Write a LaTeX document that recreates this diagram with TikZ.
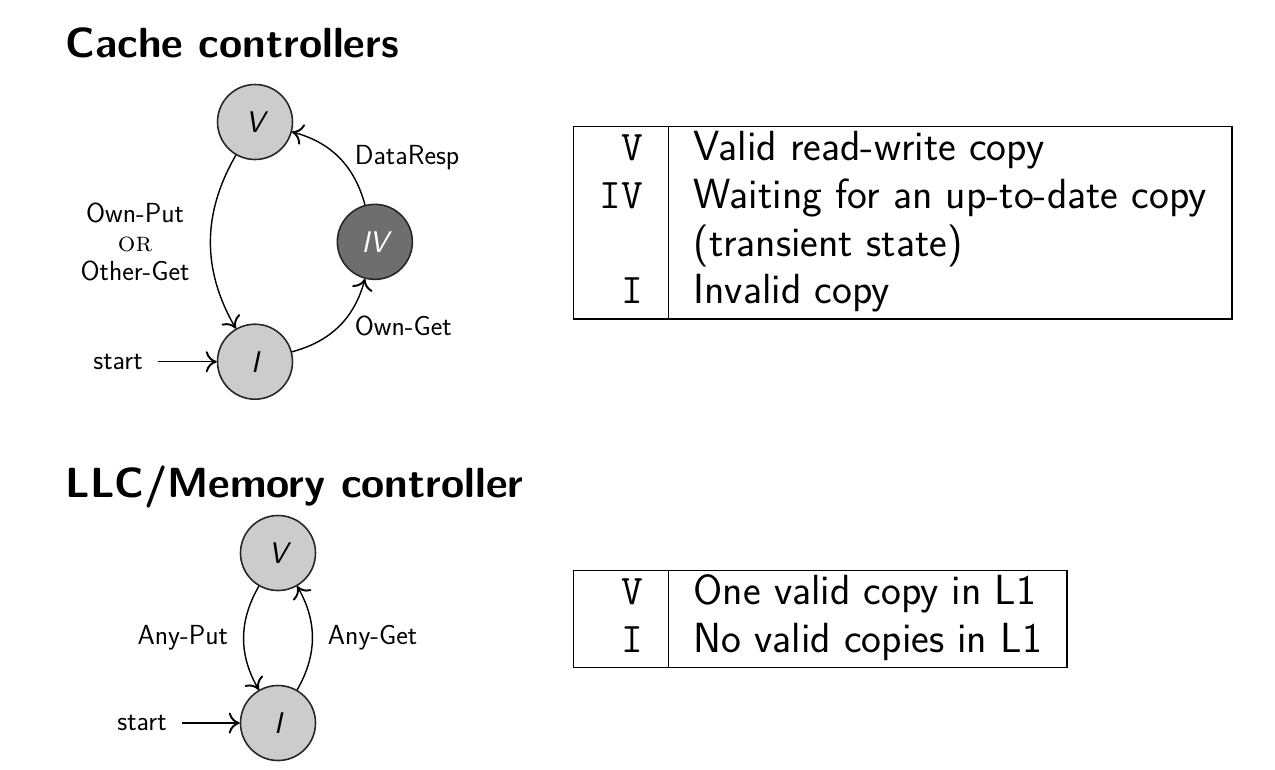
\documentclass[tikz,border=0pt]{standalone}
\usepackage{fontspec}
\usepackage{array}
\usetikzlibrary{arrows.meta}
\newcommand{\lblfont}{\fontsize{15.7}{16.5}\selectfont\sffamily}
\newcommand{\tabfont}{\fontsize{24}{27.2}\selectfont\sffamily}
\newcommand{\headfont}{\fontsize{24}{29}\selectfont\sffamily\bfseries}
\newcolumntype{S}{>{\raggedleft\arraybackslash}p{1.05em}}
\setlength{\tabcolsep}{14pt}
\setlength{\arrayrulewidth}{0.8pt}

\begin{document}
\begin{tikzpicture}[->,>={To[length=2.2mm,width=4.2mm,line width=1.1pt]},line width=0.8pt,node distance=3.39cm,auto=right,
  st/.style={draw=black!85, line width=0.9pt, circle, fill=black!20, minimum size=1.5cm,
    font=\fontsize{17}{20}\selectfont\sffamily\itshape},
  sttr/.style={st, fill=black!57, text=white},
  lbl/.style={font=\lblfont, inner sep=8.5pt, align=center},
  head/.style={anchor=base west, inner sep=0pt, font=\headfont},
  tab/.style={anchor=north west, inner sep=0pt, font=\tabfont}]
\useasboundingbox (0,0) rectangle (25.5,-15.38);

% cache controllers
\node (h1)[head] at (1.3,-1.14) {Cache controllers};
\node  (1)[st] at (5.1,-2.44) {V};
\node  (2)[sttr] [below right of = 1] {IV};
\node  (3)[st]   [below left  of = 2] {I};
\node  (s1)[lbl] [left of = 3, node distance=2.74cm] {start};
\path (s1) edge (3)
      (1) edge[bend right] node[lbl, inner sep=11.5pt]{Own-Put\\\textrm{\textsc{or}}\\Other-Get} (3)
      (3) edge[bend right] node[lbl, anchor=west]{Own-Get} (2)
      (2) edge[bend right] node[lbl, anchor=west]{DataResp} (1);
\node (t1)[tab] at (11.44,-2.5) {\begin{tabular}{|S|l|}\hline
  \texttt{V}  & Valid read-write copy\\
  \texttt{IV} & Waiting for an up-to-date copy\\
              & (transient state)\\
  \texttt{I}  & Invalid copy\\\hline
\end{tabular}};

% LLC/Memory controller
\node (h2)[head] at (1.3,-9.94) {LLC/Memory controller};
\node  (4)[st] at (5.56,-11.06) {V};
\node  (5)[st] [below of = 4, node distance=3.4cm] {I};
\node  (s2)[lbl] [left of = 5, node distance=2.72cm] {start};
\path (s2) edge (5)
      (4) edge[bend right] node[lbl]{Any-Put} (5)
      (5) edge[bend right] node[lbl]{Any-Get} (4);
\node (t2)[tab] at (11.44,-11.38) {\begin{tabular}{|S|l|}\hline
  \texttt{V} & One valid copy in L1\\
  \texttt{I} & No valid copies in L1\\\hline
\end{tabular}};
\end{tikzpicture}
\end{document}
